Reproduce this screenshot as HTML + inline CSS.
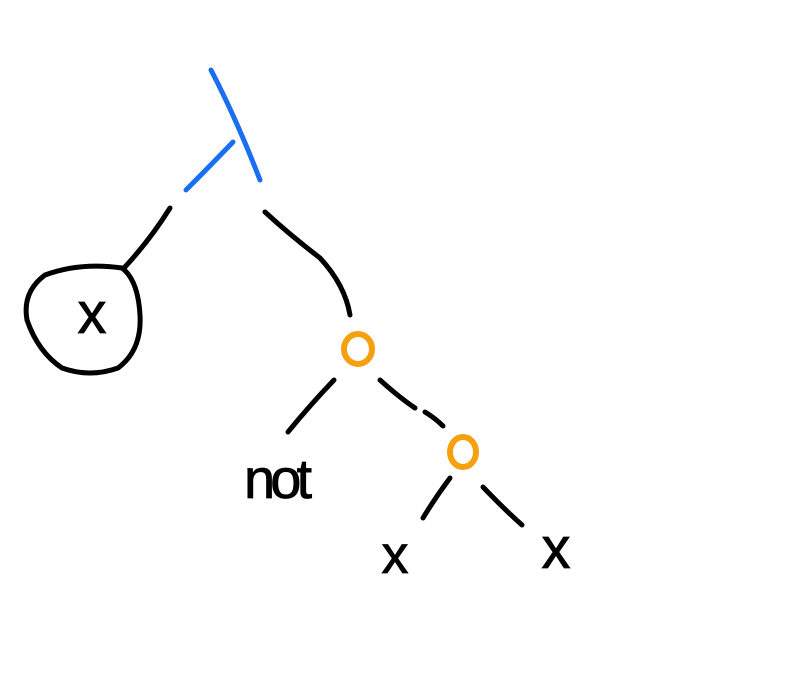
<!DOCTYPE html>
<html>
<head>
<meta charset="utf-8">
<style>
  html, body { margin: 0; padding: 0; background: #ffffff; }
  svg { display: block; }
  .hand { font-family: "Liberation Sans", sans-serif; fill: #000; stroke: #000; stroke-width: 0.8; }
</style>
</head>
<body>
<svg width="800" height="678" viewBox="0 0 800 678" xmlns="http://www.w3.org/2000/svg">
  <rect x="0" y="0" width="800" height="678" fill="#ffffff"/>
  <g fill="none" stroke-linecap="round" stroke-linejoin="round">
    <g stroke="#1a6ef0" stroke-width="5">
      <path d="M211 70 Q236 118 260 180"/>
      <path d="M233 142 Q208 168 186 190"/>
    </g>
    <path d="M170 208 Q150 240 124 268" stroke="#000" stroke-width="5"/>
    <path d="M265 212 Q290 235 320 258 Q345 285 350 315" stroke="#000" stroke-width="5"/>
    <path d="M334 380 Q310 405 288 432" stroke="#000" stroke-width="5"/>
    <path d="M380 380 Q400 398 415 408 M425 412 Q435 418 443 426" stroke="#000" stroke-width="5"/>
    <path d="M450 478 Q435 498 423 518" stroke="#000" stroke-width="5"/>
    <path d="M483 487 Q505 510 522 525" stroke="#000" stroke-width="5"/>
    <path d="M122 268 Q80 262 45 275 Q22 292 27 320 Q38 352 62 368 Q90 378 118 368 Q142 350 140 315 Q138 280 122 268" stroke="#000" stroke-width="5"/>
    <ellipse cx="358" cy="349" rx="14" ry="15" stroke="#f5a10f" stroke-width="6"/>
    <ellipse cx="463" cy="452" rx="13" ry="15" stroke="#f5a10f" stroke-width="6"/>
  </g>
  <text x="92" y="333" text-anchor="middle" font-size="58" class="hand">x</text>
  <text x="278" y="498" text-anchor="middle" font-size="56" class="hand" textLength="68">not</text>
  <text x="395" y="573" text-anchor="middle" font-size="54" class="hand">x</text>
  <text x="556" y="568" text-anchor="middle" font-size="58" class="hand">x</text>
</svg>
</body>
</html>
